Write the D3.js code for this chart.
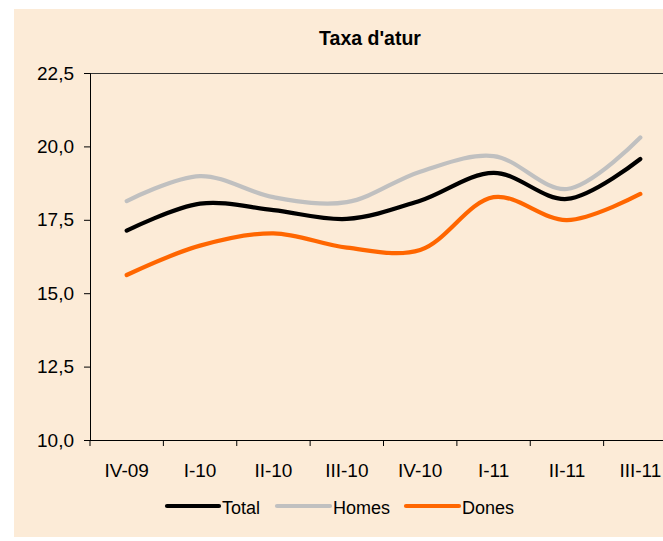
<!DOCTYPE html>
<html><head><meta charset="utf-8">
<script src="https://cdn.jsdelivr.net/npm/d3@7"></script>
<style>body{margin:0;background:#fff}svg{display:block}</style>
</head><body>
<script>
const categories = ["IV-09","I-10","II-10","III-10","IV-10","I-11","II-11","III-11"];
const total = [17.13, 18.05, 17.83, 17.53, 18.15, 19.1, 18.21, 19.57];
const homes = [18.14, 18.99, 18.27, 18.1, 19.14, 19.67, 18.55, 20.3];
const dones = [15.62, 16.62, 17.04, 16.55, 16.47, 18.27, 17.49, 18.38];
const yTicks = [10, 12.5, 15, 17.5, 20, 22.5];
const seriesNames = ["Total","Homes","Dones"];
const seriesColors = ["#000000","#c0c0c0","#ff6600"];

(function(){
const W = 663, H = 541;
const svg = d3.select("body").append("svg").attr("width", W).attr("height", H);
svg.append("rect").attr("x",14).attr("y",9).attr("width",W-14).attr("height",528).attr("fill","#fcebd7");

const pLeft = 90, pTop = 73, pBottom = 440, pRight = 677;
const x = d3.scaleBand().domain(categories).range([pLeft, pRight]);
const y = d3.scaleLinear().domain([10, 22.5]).range([pBottom, pTop]);
const font = "Liberation Sans, Arial, sans-serif";

svg.append("text").attr("x",370).attr("y",45).attr("text-anchor","middle")
  .attr("font-family",font).attr("font-weight","bold").attr("font-size",19.5).text("Taxa d'atur");

svg.append("line").attr("x1",pLeft).attr("x2",pRight).attr("y1",pTop+0.5).attr("y2",pTop+0.5).attr("stroke","#333").attr("stroke-width",1);

const yAxis = svg.append("g").attr("transform",`translate(${pLeft},0)`)
  .call(d3.axisLeft(y).tickValues(yTicks).tickSize(6).tickPadding(10)
    .tickFormat(d => d3.format(".1f")(d).replace(".",",")));
yAxis.selectAll("text").attr("font-family",font).attr("font-size",19).attr("fill","#000");
yAxis.selectAll("line,path").attr("stroke","#000");

const xAxis = svg.append("g").attr("transform",`translate(0,${pBottom})`)
  .call(d3.axisBottom(x).tickSize(0).tickPadding(0));
xAxis.selectAll("text").attr("font-family",font).attr("font-size",19).attr("fill","#000").attr("dy",null).attr("y",37);
xAxis.select("path").attr("stroke","#000").attr("d",`M${pLeft},0.5H${pRight}`);
xAxis.selectAll(".bt").data(d3.range(categories.length+1)).enter().append("line")
  .attr("x1",i=>pLeft+i*x.step()).attr("x2",i=>pLeft+i*x.step()).attr("y1",0).attr("y2",6).attr("stroke","#000");

const line = d3.line().x((d,i)=>x(categories[i])+x.bandwidth()/2).y(d=>y(d)).curve(d3.curveCatmullRom.alpha(0.5));
[[homes,1],[total,0],[dones,2]].forEach(([s,k])=>{
  svg.append("path").attr("d",line(s)).attr("fill","none").attr("stroke",seriesColors[k])
    .attr("stroke-width",4.2).attr("stroke-linecap","round").attr("stroke-linejoin","round");
});

const legX = [[167,219],[277,330],[406,459]];
const legY = 506;
seriesNames.forEach((n,k)=>{
  svg.append("line").attr("x1",legX[k][0]).attr("x2",legX[k][1]).attr("y1",legY).attr("y2",legY)
    .attr("stroke",seriesColors[k]).attr("stroke-width",4.2).attr("stroke-linecap","round");
  svg.append("text").attr("x",legX[k][1]+3).attr("y",514).attr("font-family",font).attr("font-size",18).text(n);
});
})();
</script>
</body></html>
